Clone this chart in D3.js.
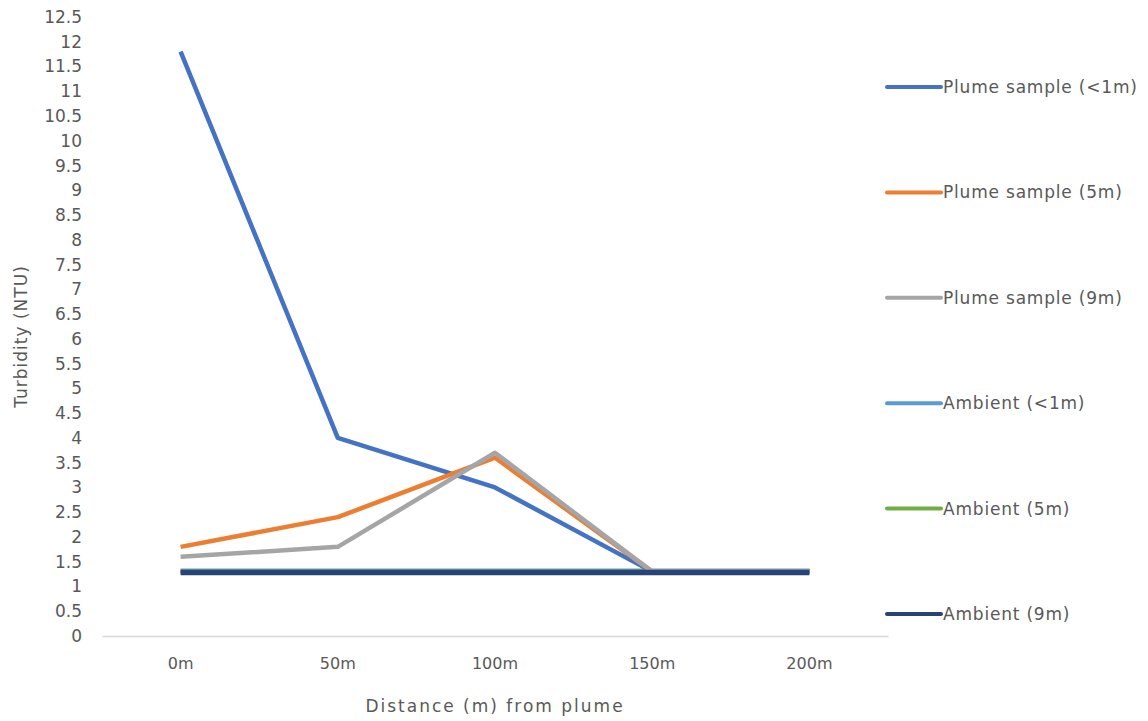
<!DOCTYPE html>
<html>
<head>
<meta charset="utf-8">
<script src="https://cdn.jsdelivr.net/npm/d3@7"></script>
<style>
  body { margin: 0; background: #fff; }
  text { font-family: "DejaVu Sans", sans-serif; fill: #595959; }
</style>
</head>
<body>
<svg id="chart" width="1148" height="721"></svg>
<script>
// Turbidity readings by distance from the plume
const categories = ["0m", "50m", "100m", "150m", "200m"];
const seriesNames = [
  "Plume sample (<1m)", "Plume sample (5m)", "Plume sample (9m)",
  "Ambient  (<1m)", "Ambient (5m)", "Ambient (9m)"
];
const plumeShallow = [11.8, 4.0, 3.0, 1.3, 1.3];
const plumeMid     = [1.8, 2.4, 3.6, 1.3, 1.3];
const plumeDeep    = [1.6, 1.8, 3.7, 1.3, 1.3];
const ambientShallow = [1.32, 1.32, 1.32, 1.32, 1.32];
const ambientMid     = [1.3, 1.3, 1.3, 1.3, 1.3];
const ambientDeep    = [1.28, 1.28, 1.28, 1.28, 1.28];
const yTicks = d3.range(0, 12.51, 0.5);

const seriesValues = [plumeShallow, plumeMid, plumeDeep, ambientShallow, ambientMid, ambientDeep];
const colors = ["#4472C4", "#ED7D31", "#A5A5A5", "#5B9BD5", "#70AD47", "#264478"];
const widths = [4.5, 4.5, 4.5, 4.5, 4.5, 5.5];

const svg = d3.select("#chart");
const W = 1148, H = 721;
const plot = { left: 102, right: 888, top: 17, bottom: 636 };

const x = d3.scaleBand().domain(categories)
  .range([plot.left, plot.right]);
const y = d3.scaleLinear().domain([0, 12.5])
  .range([plot.bottom, plot.top]);

// X axis baseline and category labels
const xAxis = svg.append("g")
  .attr("transform", `translate(0,${plot.bottom})`)
  .call(d3.axisBottom(x).tickSize(0).tickPadding(22));
xAxis.select(".domain").attr("stroke", "#D9D9D9").attr("stroke-width", 1.5);
xAxis.selectAll("text").style("font-size", "16px").attr("fill", "#595959")
  .style("font-family", "'DejaVu Sans', sans-serif");

// Y axis labels only
const yAxis = svg.append("g")
  .attr("transform", `translate(82,0)`)
  .call(d3.axisLeft(y).tickValues(yTicks).tickSize(0).tickPadding(0)
    .tickFormat(d => d3.format("")(d)));
yAxis.select(".domain").remove();
yAxis.selectAll("text").style("font-size", "17px").attr("fill", "#595959")
  .style("font-family", "'DejaVu Sans', sans-serif");

// Axis titles
svg.append("text")
  .attr("transform", `translate(27,${(y(0) + y(12.5)) / 2 + 10}) rotate(-90)`)
  .attr("text-anchor", "middle")
  .style("font-size", "17px")
  .style("letter-spacing", "1px")
  .text("Turbidity (NTU)");
svg.append("text")
  .attr("x", (plot.left + plot.right) / 2)
  .attr("y", 712)
  .attr("text-anchor", "middle")
  .style("font-size", "17px")
  .style("letter-spacing", "2px")
  .text("Distance (m) from plume");

// Series lines (ambient drawn first so the plume lines sit above, dark ambient on top)
const line = d3.line()
  .x((d, i) => x(categories[i]) + x.bandwidth() / 2)
  .y(d => y(d));
const order = [3, 4, 0, 1, 2, 5];
svg.append("g").selectAll("path")
  .data(order)
  .join("path")
  .attr("d", i => line(seriesValues[i]))
  .attr("fill", "none")
  .attr("stroke", i => colors[i])
  .attr("stroke-width", i => widths[i])
  .attr("stroke-linejoin", "round");

// Legend
const legend = svg.append("g");
const legendY = d3.scaleLinear().domain([0, 5]).range([87, 614]);
seriesNames.forEach((name, i) => {
  const g = legend.append("g").attr("transform", `translate(0,${legendY(i)})`);
  g.append("line")
    .attr("x1", 887).attr("x2", 941)
    .attr("stroke", colors[i]).attr("stroke-width", 4)
    .attr("stroke-linecap", "round");
  g.append("text")
    .attr("x", 943).attr("y", 6)
    .style("font-size", "17px")
    .style("letter-spacing", "0.8px")
    .text(name);
});
</script>
</body>
</html>
